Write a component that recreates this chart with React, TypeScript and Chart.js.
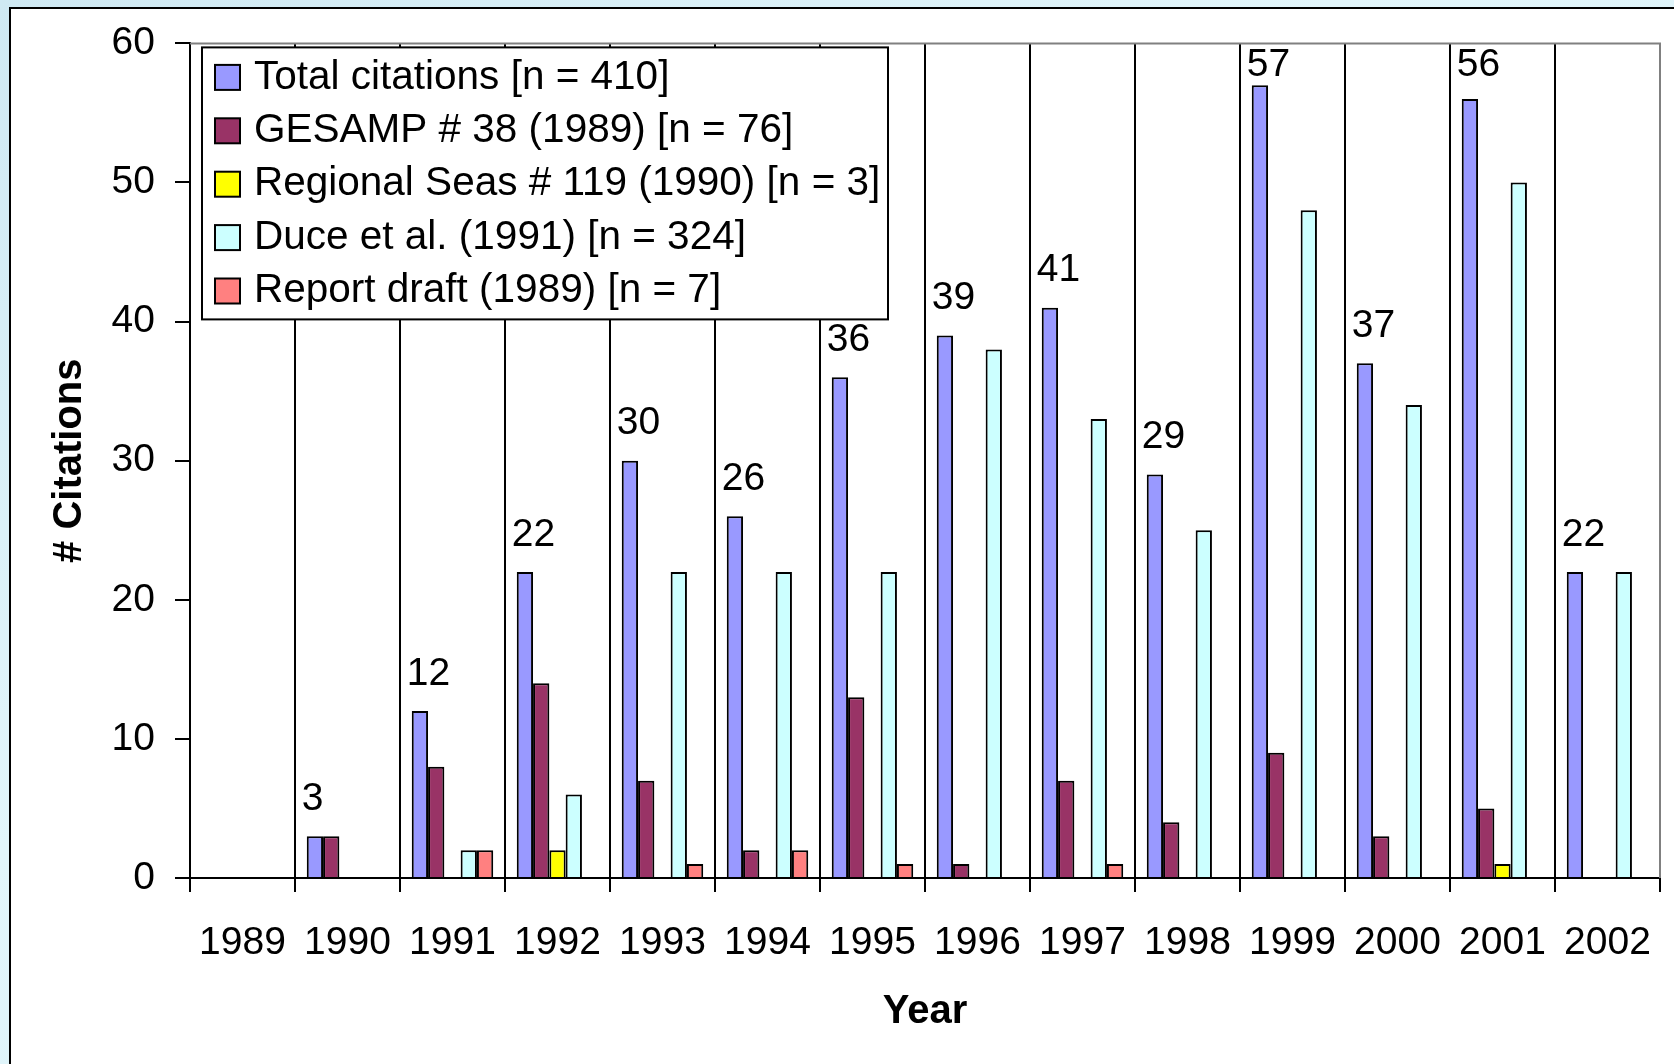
import React, { useEffect, useRef } from 'react';
import { Chart, registerables } from 'chart.js';

Chart.register(...registerables);

const years = ['1989', '1990', '1991', '1992', '1993', '1994', '1995', '1996', '1997', '1998', '1999', '2000', '2001', '2002'];
const seriesLabels = [
  'Total citations [n = 410]',
  'GESAMP # 38 (1989) [n = 76]',
  'Regional Seas # 119 (1990) [n = 3]',
  'Duce et al. (1991) [n = 324]',
  'Report draft (1989) [n = 7]',
];
const totalCitations = [0, 3, 12, 22, 30, 26, 36, 39, 41, 29, 57, 37, 56, 22];
const gesamp38 = [0, 3, 8, 14, 7, 2, 13, 1, 7, 4, 9, 3, 5, 0];
const regionalSeas119 = [0, 0, 0, 2, 0, 0, 0, 0, 0, 0, 0, 0, 1, 0];
const duceEtAl = [0, 0, 2, 6, 22, 22, 22, 38, 33, 25, 48, 34, 50, 22];
const reportDraft = [0, 0, 2, 0, 1, 2, 1, 0, 1, 0, 0, 0, 0, 0];
const seriesColors = ['#9999FF', '#993366', '#FFFF00', '#CCFFFF', '#FF8080'];
const yMin = 0;
const yMax = 60;
const yStep = 10;

const FONT = "'Liberation Sans', Arial, Helvetica, sans-serif";

const overlayPlugin = {
  id: 'overlay',
  afterDraw(chart: any) {
    const { ctx, chartArea } = chart;
    const { left, top, right, bottom } = chartArea;
    ctx.save();
    // plot area border (grey) top and right
    ctx.strokeStyle = '#808080';
    ctx.lineWidth = 2;
    ctx.beginPath();
    ctx.moveTo(left, top);
    ctx.lineTo(right, top);
    ctx.lineTo(right, bottom);
    ctx.stroke();

    // value labels over total bars
    const meta = chart.getDatasetMeta(0);
    ctx.fillStyle = '#000';
    ctx.font = `39px ${FONT}`;
    ctx.textAlign = 'left';
    ctx.textBaseline = 'middle';
    meta.data.forEach((bar: any, i: number) => {
      const v = totalCitations[i];
      if (!v) return;
      const x = bar.x - bar.width / 2 - 5;
      const y = Math.max(bar.y - 37, top + 22);
      ctx.fillText(String(v), x, y);
    });

    // legend box
    const lx = left + 12;
    const ly = top + 4;
    const lw = 686;
    const lh = 272;
    ctx.fillStyle = '#fff';
    ctx.fillRect(lx, ly, lw, lh);
    ctx.strokeStyle = '#000';
    ctx.lineWidth = 2;
    ctx.strokeRect(lx, ly, lw, lh);
    ctx.font = `40.5px ${FONT}`;
    ctx.textAlign = 'left';
    ctx.textBaseline = 'middle';
    chart.data.datasets.forEach((ds: any, i: number) => {
      const cy = ly + 30 + i * 53.4;
      ctx.fillStyle = ds.backgroundColor;
      ctx.fillRect(lx + 13, cy - 12.5, 25, 25);
      ctx.strokeStyle = '#000';
      ctx.lineWidth = 2;
      ctx.strokeRect(lx + 13, cy - 12.5, 25, 25);
      ctx.fillStyle = '#000';
      ctx.fillText(ds.label, lx + 52, cy);
    });
    ctx.restore();
  },
};

export default function App() {
  const canvasRef = useRef<HTMLCanvasElement | null>(null);

  useEffect(() => {
    document.body.style.margin = '0';
    const canvas = canvasRef.current;
    if (!canvas) return;
    const seriesData = [totalCitations, gesamp38, regionalSeas119, duceEtAl, reportDraft];
    const chart = new Chart(canvas, {
      type: 'bar',
      data: {
        labels: years,
        datasets: seriesData.map((arr, i) => ({
          label: seriesLabels[i],
          data: arr.map((v) => (v === 0 ? null : v)),
          backgroundColor: seriesColors[i],
          borderColor: '#000',
          borderWidth: 2,
          categoryPercentage: 0.776,
          barPercentage: 1.0,
        })),
      },
      options: {
        responsive: false,
        animation: false,
        devicePixelRatio: 1,
        layout: { padding: { top: 42, right: 14, left: 0, bottom: 0 } },
        plugins: {
          legend: { display: false },
          tooltip: { enabled: false },
        },
        scales: {
          x: {
            type: 'category',
            offset: true,
            grid: {
              offset: true,
              color: '#000',
              lineWidth: 2,
              tickLength: 14,
              drawOnChartArea: true,
              drawTicks: true,
            },
            border: { display: true, color: '#000', width: 2 },
            ticks: {
              color: '#000',
              font: { size: 39, family: FONT },
              padding: 28,
              maxRotation: 0,
              autoSkip: false,
            },
            title: {
              display: true,
              text: 'Year',
              color: '#000',
              font: { size: 40, weight: 'bold', family: FONT },
              padding: { top: 0, bottom: 28 },
            },
            afterFit: (s: any) => {
              s.height = 186;
              s.paddingLeft = 0;
              s.paddingRight = 0;
            },
          },
          y: {
            min: yMin,
            max: yMax,
            ticks: {
              stepSize: yStep,
              color: '#000',
              font: { size: 39, family: FONT },
              padding: 20,
            },
            grid: {
              drawOnChartArea: false,
              color: '#000',
              lineWidth: 2,
              tickLength: 15,
            },
            border: { display: true, color: '#000', width: 2 },
            title: {
              display: true,
              text: '# Citations',
              color: '#000',
              font: { size: 40, weight: 'bold', family: FONT },
              padding: { top: 46, bottom: 0 },
            },
            afterFit: (s: any) => {
              s.width = 190;
            },
          },
        },
      } as any,
      plugins: [overlayPlugin],
    });
    return () => chart.destroy();
  }, []);

  return (
    <div
      style={{
        position: 'relative',
        width: 1674,
        height: 1064,
        overflow: 'hidden',
        background: 'linear-gradient(to bottom right, #cfe9f3, #e2f6fb 40%, #d3edf6)',
      }}
    >
      <style>{'html,body{margin:0;padding:0;overflow:hidden;}'}</style>
      <div
        style={{
          position: 'absolute',
          left: 9,
          top: 7,
          width: 1720,
          height: 1120,
          background: '#fff',
          borderLeft: '2.5px solid #000',
          borderTop: '2.5px solid #000',
          boxSizing: 'border-box',
        }}
      />
      <canvas
        ref={canvasRef}
        width={1674}
        height={1064}
        style={{ position: 'absolute', left: 0, top: 0, width: 1674, height: 1064 }}
      />
    </div>
  );
}
